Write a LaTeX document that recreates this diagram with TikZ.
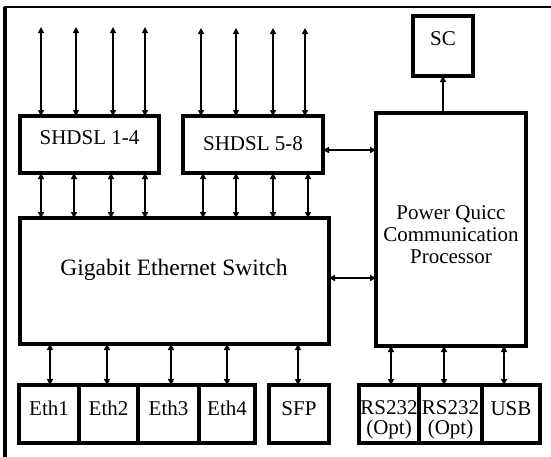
\documentclass[tikz,border=0pt]{standalone}
\usepackage{fontspec}
\setmainfont{Liberation Serif}
\usetikzlibrary{arrows.meta}
\begin{document}
\begin{tikzpicture}[x=1pt,y=-1pt,
  box/.style={draw, line width=3.2pt, inner sep=0pt, outer sep=0pt, minimum width=#1},
  lbl/.style={inner sep=0pt, anchor=base, font=\fontsize{21}{22}\selectfont},
  dar/.style={line width=1.5pt, {Triangle[length=6pt,width=6pt]}-{Triangle[length=6pt,width=6pt]}},
  sar/.style={line width=1.5pt, -{Triangle[length=6pt,width=6pt]}}]
\useasboundingbox (0,0) rectangle (551,456);
% outer frame
\draw[line width=3.2pt] (5,460) -- (5,7);
\draw[line width=2.6pt] (3.5,7) -- (560,7);
% boxes
\node[box=139pt, minimum height=57pt] (s14) at (89.5,144.5) {};
\node[box=140pt, minimum height=57pt] (s58) at (253,144.5) {};
\node[box=309pt, minimum height=126pt] (sw) at (174.5,281) {};
\node[box=150pt, minimum height=233pt] (pq) at (451,229.5) {};
\node[box=60pt, minimum height=60pt] (sc) at (443,46) {};
\node[box=60pt, minimum height=58pt] (e1) at (49,414) {};
\node[box=59pt, minimum height=58pt] (e2) at (108.5,414) {};
\node[box=61pt, minimum height=58pt] (e3) at (168.5,414) {};
\node[box=56pt, minimum height=58pt] (e4) at (227,414) {};
\node[box=60pt, minimum height=58pt] (sfp) at (299,414) {};
\node[box=60pt, minimum height=58pt] (r1) at (389,414) {};
\node[box=63pt, minimum height=58pt] (r2) at (450.5,414) {};
\node[box=58pt, minimum height=58pt] (usb) at (511,414) {};
% labels
\node[lbl] (ls14) at (89.5,144) {SHDSL 1-4};
\node[lbl] (ls58) at (253,150) {SHDSL 5-8};
\node[lbl, font=\fontsize{23.5}{24}\selectfont] (lsw) at (174,275) {Gigabit Ethernet Switch};
\node[lbl] (lpq1) at (451,219) {Power Quicc};
\node[lbl] (lpq2) at (451,241) {Communication};
\node[lbl] (lpq3) at (451,263) {Processor};
\node[lbl] (lsc) at (443,45) {SC};
\node[lbl] (le1) at (49,415) {Eth1};
\node[lbl] (le2) at (108.5,415) {Eth2};
\node[lbl] (le3) at (168.5,415) {Eth3};
\node[lbl] (le4) at (227,415) {Eth4};
\node[lbl] (lsfp) at (299,415) {SFP};
\node[lbl] (lr1a) at (389,414) {RS232};
\node[lbl] (lr1b) at (389,434) {(Opt)};
\node[lbl] (lr2a) at (450.5,414) {RS232};
\node[lbl] (lr2b) at (450.5,434) {(Opt)};
\node[lbl] (lusb) at (511,415) {USB};
% top free ends
\foreach \x [count=\i] in {41,76,113,145} {
  \coordinate (ta\i) at (\x,27);
  \draw[dar] (ta\i) -- (ta\i |- s14.north);
}
\foreach \x [count=\i] in {201,236,273,305} {
  \coordinate (tb\i) at (\x,28);
  \draw[dar] (tb\i) -- (tb\i |- s58.north);
}
% SHDSL to switch
\foreach \x in {41,74,111,145}
  \draw[dar] (s14.south -| \x,0) -- (sw.north -| \x,0);
\foreach \x in {203,236,273,308}
  \draw[dar] (s58.south -| \x,0) -- (sw.north -| \x,0);
% to processor
\draw[dar] (s58.east |- 0,150) -- (pq.west |- 0,150);
\draw[dar] (sw.east |- 0,278) -- (pq.west |- 0,278);
\draw[sar] (pq.north -| sc.south) -- (sc.south);
% switch to ports
\draw[dar] (sw.south -| 50,0) -- (e1.north -| 50,0);
\draw[dar] (sw.south -| 107,0) -- (e2.north -| 107,0);
\draw[dar] (sw.south -| 171,0) -- (e3.north -| 171,0);
\draw[dar] (sw.south -| 227,0) -- (e4.north -| 227,0);
\draw[dar] (sw.south -| 298,0) -- (sfp.north -| 298,0);
% processor to ports
\draw[dar] (pq.south -| 391,0) -- (r1.north -| 391,0);
\draw[dar] (pq.south -| 444,0) -- (r2.north -| 444,0);
\draw[dar] (pq.south -| 504,0) -- (usb.north -| 504,0);
\end{tikzpicture}
\end{document}
